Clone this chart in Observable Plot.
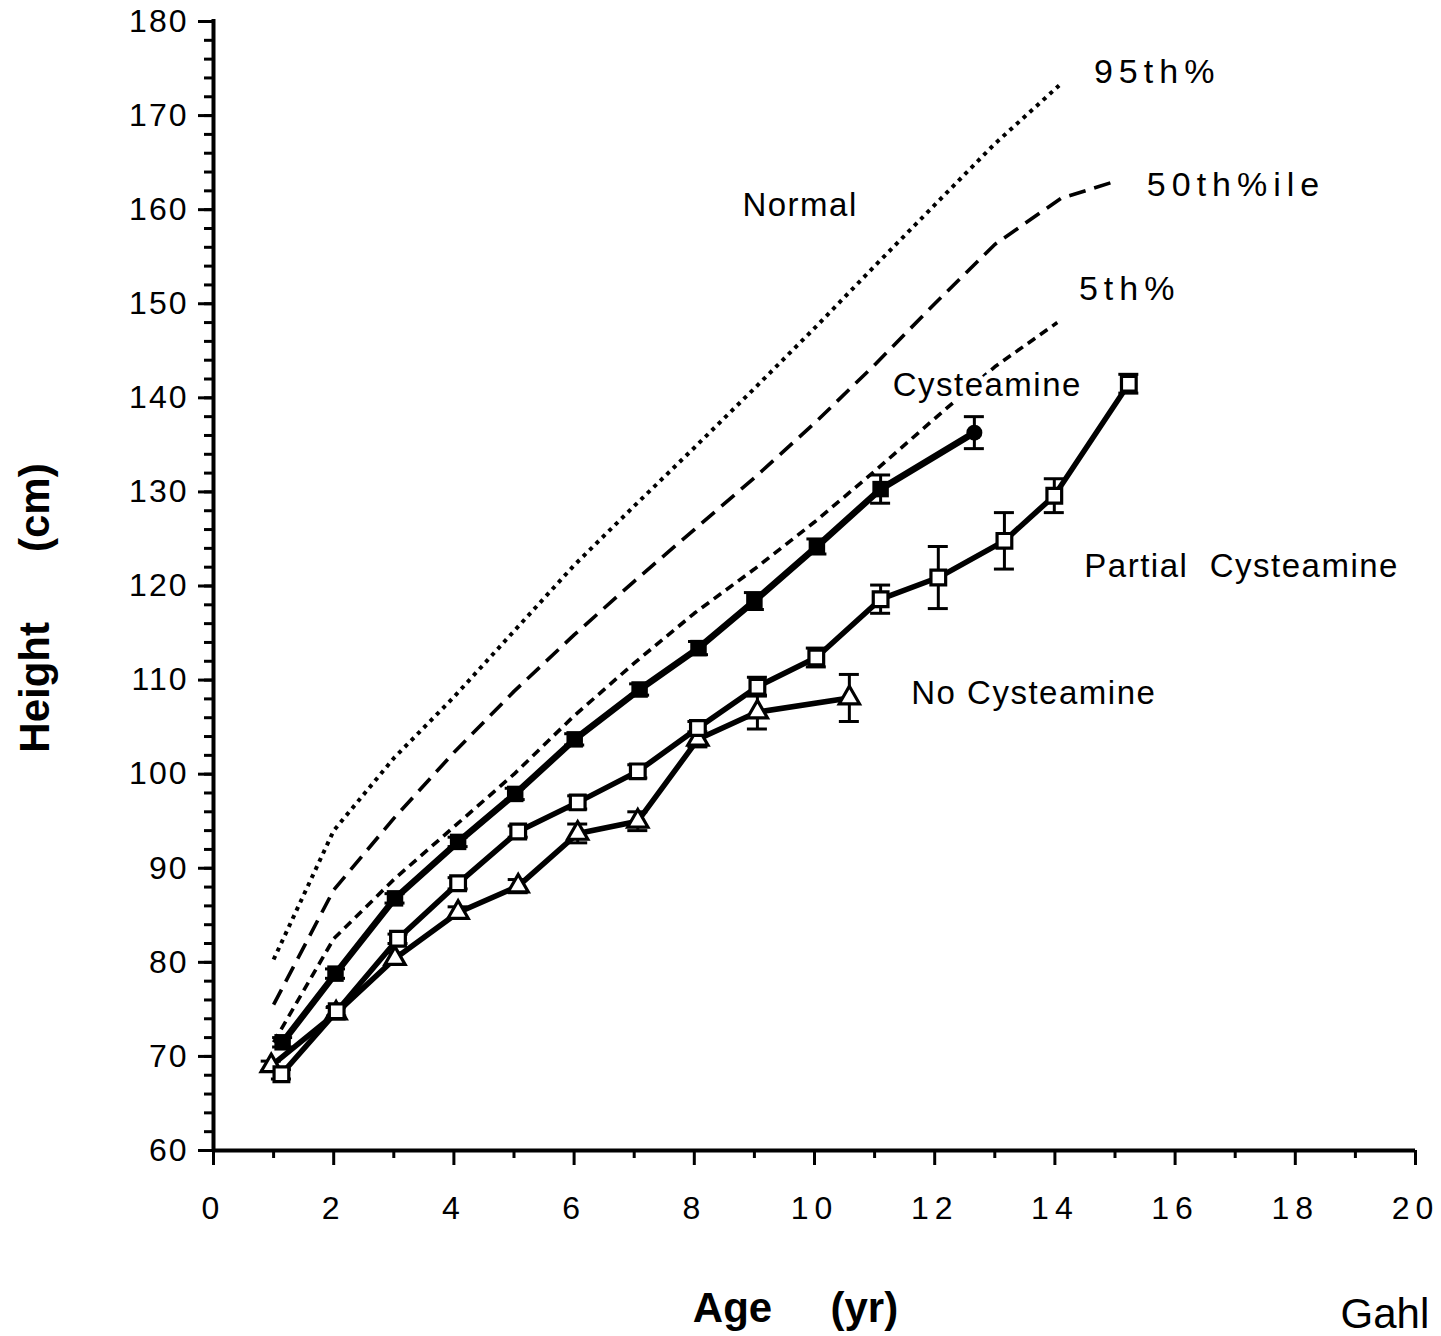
<!DOCTYPE html>
<html>
<head>
<meta charset="utf-8">
<script src="https://cdn.jsdelivr.net/npm/d3@7"></script>
<script src="https://cdn.jsdelivr.net/npm/@observablehq/plot@0.6"></script>
<style>
  html, body { margin: 0; padding: 0; background: #fff; overflow: hidden; }
  #chart svg { overflow: hidden; display: block; }
  g[aria-label="x-axis tick label"] text { letter-spacing: 6px; }
  g[aria-label="y-axis tick label"] text { letter-spacing: 2px; }
</style>
</head>
<body>
<div id="chart"></div>
<script>
// ---- Tick values ----
const xTicks = [0, 2, 4, 6, 8, 10, 12, 14, 16, 18, 20];
const xMinorTicks = [1, 3, 5, 7, 9, 11, 13, 15, 17, 19];
const yTicks = [60, 70, 80, 90, 100, 110, 120, 130, 140, 150, 160, 170, 180];
const yMinorTicks = d3.range(60, 181, 2);

// ---- Patient series (age in yr, height in cm, error half-length in cm) ----
const cystAge    = [1.15, 2.03, 3.02, 4.07, 5.02, 6.01, 7.09, 8.07, 9.0, 10.04, 11.1, 12.66];
const cystHeight = [71.5, 78.8, 86.8, 92.8, 97.9, 103.7, 109.0, 113.4, 118.4, 124.2, 130.3, 136.3];
const cystErr    = [0.5, 0.5, 0.5, 0.5, 0.6, 0.6, 0.6, 0.7, 0.9, 0.8, 1.5, 1.7];

const partAge    = [1.13, 2.05, 3.07, 4.07, 5.07, 6.06, 7.06, 8.06, 9.05, 10.03, 11.1, 12.06, 13.16, 13.99, 15.23];
const partHeight = [68.1, 74.8, 82.5, 88.4, 93.9, 97.0, 100.3, 104.9, 109.3, 112.4, 118.6, 120.9, 124.8, 129.6, 141.5];
const partErr    = [0.5, 0.5, 0.5, 0.6, 0.6, 0.7, 0.7, 0.7, 1.0, 1.0, 1.5, 3.3, 3.0, 1.8, 1.0];

const noAge      = [0.96, 2.04, 3.02, 4.07, 5.07, 6.06, 7.06, 8.06, 9.05, 10.58];
const noHeight   = [69.0, 74.6, 80.4, 85.3, 88.1, 93.7, 95.0, 103.7, 106.6, 108.1];
const noErr      = [0.5, 0.6, 0.6, 0.6, 0.7, 1.0, 1.0, 0.8, 1.8, 2.5];

// ---- Normal percentile curves ----
const p95Age    = [1, 2, 3, 4, 5, 6, 7, 8, 9, 10, 11, 12, 13, 14.07];
const p95Height = [80.3, 94.0, 101.7, 108.2, 115.2, 122.2, 128.5, 134.7, 141.0, 147.4, 154.0, 160.5, 167.0, 173.2];
const p50Age    = [1, 2, 3, 4, 5, 6, 7, 8, 9, 10, 11, 12, 13, 14.1, 15.0];
const p50Height = [75.5, 87.7, 95.3, 102.3, 108.8, 114.8, 120.5, 126.0, 131.5, 137.3, 143.5, 150.0, 156.3, 161.2, 163.0];
const p5Age     = [1, 2, 3, 4, 5, 6, 7, 8, 9, 10, 11, 12, 13, 14.04];
const p5Height  = [71.5, 82.5, 88.8, 94.4, 100.0, 106.2, 111.8, 117.1, 121.8, 126.8, 132.2, 137.8, 143.3, 148.0];

// ---- Text ----
const xTitle = "Age     (yr)";
const yTitle = "Height      (cm)";
const credit = "Gahl";
const percentileLabels = ["95th%", "50th%ile", "5th%"];
const groupLabels = ["Normal", "Cysteamine", "Partial  Cysteamine", "No Cysteamine"];

// ---- Build tables ----
const rows = (ages, heights, errs) => ages.map((x, i) => ({x, y: heights[i], e: errs ? errs[i] : 0}));
const cyst = rows(cystAge, cystHeight, cystErr);
const part = rows(partAge, partHeight, partErr);
const none = rows(noAge, noHeight, noErr);
const p95 = rows(p95Age, p95Height);
const p50 = rows(p50Age, p50Height);
const p5  = rows(p5Age, p5Height);

const errorBars = (data) => [
  Plot.ruleX(data, {x: "x", y1: d => d.y - d.e, y2: d => d.y + d.e, strokeWidth: 3}),
  Plot.ruleY(data, {x1: "x", x2: "x", y: d => d.y + d.e, insetLeft: -10, insetRight: -10, strokeWidth: 3}),
  Plot.ruleY(data, {x1: "x", x2: "x", y: d => d.y - d.e, insetLeft: -10, insetRight: -10, strokeWidth: 3})
];

const lastCyst = cyst.length - 1;

const chart = Plot.plot({
  width: 1441,
  height: 1336,
  marginLeft: 213,
  marginRight: 26,
  marginTop: 21,
  marginBottom: 186,
  style: {fontFamily: "'Liberation Sans', Arial, Helvetica, sans-serif", fontSize: "32px", background: "white", color: "black"},
  x: {domain: [0, 20], label: null},
  y: {domain: [60, 180], label: null},
  marks: [
    // axes
    Plot.axisY({ticks: yMinorTicks, tickSize: 9, tickFormat: () => "", strokeWidth: 3, label: null}),
    Plot.axisY({ticks: yTicks, tickSize: 15, tickPadding: 10, strokeWidth: 3, label: null}),
    Plot.axisX({ticks: xMinorTicks, tickSize: 8, tickFormat: () => "", strokeWidth: 3, label: null}),
    Plot.axisX({ticks: xTicks, tickSize: 15, tickPadding: 31, strokeWidth: 3, label: null}),
    Plot.ruleX([0], {strokeWidth: 4, insetTop: -2}),
    Plot.ruleY([60], {strokeWidth: 4}),

    // normal percentile curves
    Plot.line(p95, {x: "x", y: "y", strokeWidth: 4, strokeDasharray: "4,5", strokeLinecap: "butt"}),
    Plot.line(p50, {x: "x", y: "y", strokeWidth: 3.6, strokeDasharray: "17,9", strokeLinecap: "butt"}),
    Plot.line(p5,  {x: "x", y: "y", strokeWidth: 3.6, strokeDasharray: "9,6", strokeLinecap: "butt"}),

    // patient series lines
    Plot.line(none, {x: "x", y: "y", strokeWidth: 5.5}),
    Plot.line(part, {x: "x", y: "y", strokeWidth: 5.5}),
    Plot.line(cyst, {x: "x", y: "y", strokeWidth: 6.5}),

    // error bars
    ...errorBars(none),
    ...errorBars(part),
    ...errorBars(cyst),

    // markers
    Plot.dot(none, {x: "x", y: "y", symbol: "triangle", r: 7.5, fill: "white", stroke: "black", strokeWidth: 3.2}),
    Plot.dot(part, {x: "x", y: "y", symbol: "square", r: 8.3, fill: "white", stroke: "black", strokeWidth: 3.2}),
    Plot.dot(cyst, {x: "x", y: "y", symbol: "square", r: 9.3, fill: "black", stroke: "none", filter: (d, i) => i < lastCyst}),
    Plot.dot(cyst, {x: "x", y: "y", symbol: "circle", r: 8, fill: "black", stroke: "none", filter: (d, i) => i === lastCyst}),

    // annotations
    Plot.text([percentileLabels[0]], {x: 14.65, y: 174.6, textAnchor: "start", fontSize: 34}),
    Plot.text([percentileLabels[1]], {x: 15.53, y: 162.6, textAnchor: "start", fontSize: 34}),
    Plot.text([percentileLabels[2]], {x: 14.40, y: 151.6, textAnchor: "start", fontSize: 34}),
    Plot.text([groupLabels[0]], {x: 8.80, y: 160.4, textAnchor: "start", fontSize: 33}),
    Plot.text([groupLabels[1]], {x: 11.30, y: 141.3, textAnchor: "start", fontSize: 33, stroke: "white", strokeWidth: 10, paintOrder: "stroke", fill: "black"}),
    Plot.text([groupLabels[2]], {x: 14.49, y: 122.1, textAnchor: "start", fontSize: 33}),
    Plot.text([groupLabels[3]], {x: 11.61, y: 108.6, textAnchor: "start", fontSize: 33}),

    // axis titles and credit
    Plot.text([yTitle], {frameAnchor: "left", dx: -178, dy: 22, rotate: -90, textAnchor: "middle", lineAnchor: "middle", fontSize: 42, fontWeight: "bold"}),
    Plot.text([xTitle], {frameAnchor: "bottom", dx: -19, dy: 158, textAnchor: "middle", lineAnchor: "middle", fontSize: 42, fontWeight: "bold"}),
    Plot.text([credit], {frameAnchor: "bottom-right", dx: -75, dy: 164, textAnchor: "start", lineAnchor: "middle", fontSize: 42})
  ]
});

// letter spacing of the annotation labels, as in the original figure
d3.select(chart).selectAll("text").each(function () {
  const t = this.textContent;
  if (percentileLabels.includes(t)) this.style.letterSpacing = "6px";
  else if (groupLabels.includes(t)) this.style.letterSpacing = "1.5px";
});

document.getElementById("chart").appendChild(chart);
</script>
</body>
</html>
